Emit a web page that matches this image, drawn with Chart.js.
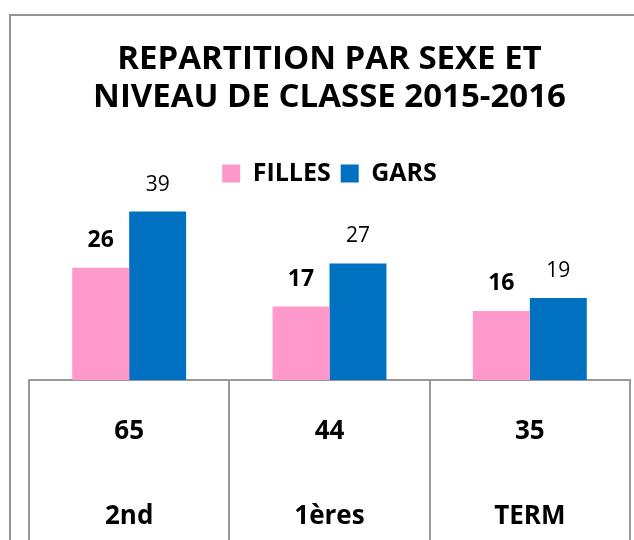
<!DOCTYPE html>
<html><head><meta charset="utf-8">
<script src="https://cdn.jsdelivr.net/npm/chart.js@4/dist/chart.umd.min.js"></script>
<style>
html,body{margin:0;padding:0;background:#fff;overflow:hidden;width:634px;height:540px}
#frame{position:absolute;left:9px;top:14px;width:800px;height:800px;border:2px solid #939393;box-sizing:border-box}
#wrap{position:absolute;left:0;top:0;width:634px;height:540px}
</style></head>
<body>
<div id="frame"></div>
<div id="wrap"><canvas id="c" width="634" height="540"></canvas></div>
<script>
const categories = ['2nd', '1ères', 'TERM'];
const filles = [26, 17, 16];
const gars = [39, 27, 19];
const totals = [65, 44, 35];
const seriesNames = ['FILLES', 'GARS'];
const titleLines = ['REPARTITION PAR SEXE ET', 'NIVEAU DE CLASSE 2015-2016'];

const FONT = "'Open Sans', sans-serif";

const valueLabels = {
  id: 'valueLabels',
  afterDatasetsDraw(chart) {
    const ctx = chart.ctx;
    ctx.save();
    ctx.textAlign = 'center';
    ctx.textBaseline = 'middle';
    chart.data.datasets.forEach((ds, di) => {
      const meta = chart.getDatasetMeta(di);
      ctx.font = di === 0 ? `bold 23px ${FONT}` : `21px ${FONT}`;
      ctx.fillStyle = '#000';
      meta.data.forEach((el, i) => {
        ctx.fillText(String(ds.data[i]), el.x, el.y - 27);
      });
    });
    ctx.restore();
  }
};

new Chart(document.getElementById('c'), {
  type: 'bar',
  data: {
    labels: categories,
    datasets: [
      { label: seriesNames[0], data: filles, backgroundColor: '#FF99CC', borderWidth: 0 },
      { label: seriesNames[1], data: gars, backgroundColor: '#0070C0', borderWidth: 0 }
    ]
  },
  options: {
    responsive: false,
    animation: false,
    events: [],
    devicePixelRatio: 1,
    layout: { padding: { left: 29, right: 4, top: 0, bottom: 0 } },
    datasets: { bar: { categoryPercentage: 0.5686, barPercentage: 1 } },
    plugins: {
      title: {
        display: true,
        text: titleLines,
        color: '#000',
        font: { family: FONT, size: 33, weight: 'bold', lineHeight: 1.1515 },
        padding: { top: 41, bottom: 34 }
      },
      legend: {
        display: true,
        labels: {
          color: '#000',
          font: { family: FONT, size: 25, weight: 'bold' },
          boxWidth: 18,
          boxHeight: 18,
          padding: 10
        }
      },
      tooltip: { enabled: false }
    },
    scales: {
      x: {
        position: 'bottom',
        afterFit(scale) { scale.height = 160; },
        grid: {
          offset: true,
          drawOnChartArea: false,
          drawTicks: true,
          tickLength: 200,
          color: '#999999',
          lineWidth: 2
        },
        border: { display: true, color: '#999999', width: 2 },
        ticks: {
          padding: -170,
          color: '#000',
          font: { family: FONT, size: 26, weight: 'bold', lineHeight: 1.635 },
          maxRotation: 0,
          autoSkip: false,
          callback(value, index) { return [String(totals[index]), '', categories[index]]; }
        }
      },
      y: {
        display: false,
        min: 0,
        max: 42.6,
        beginAtZero: true
      }
    }
  },
  plugins: [valueLabels]
});
</script>
</body></html>
